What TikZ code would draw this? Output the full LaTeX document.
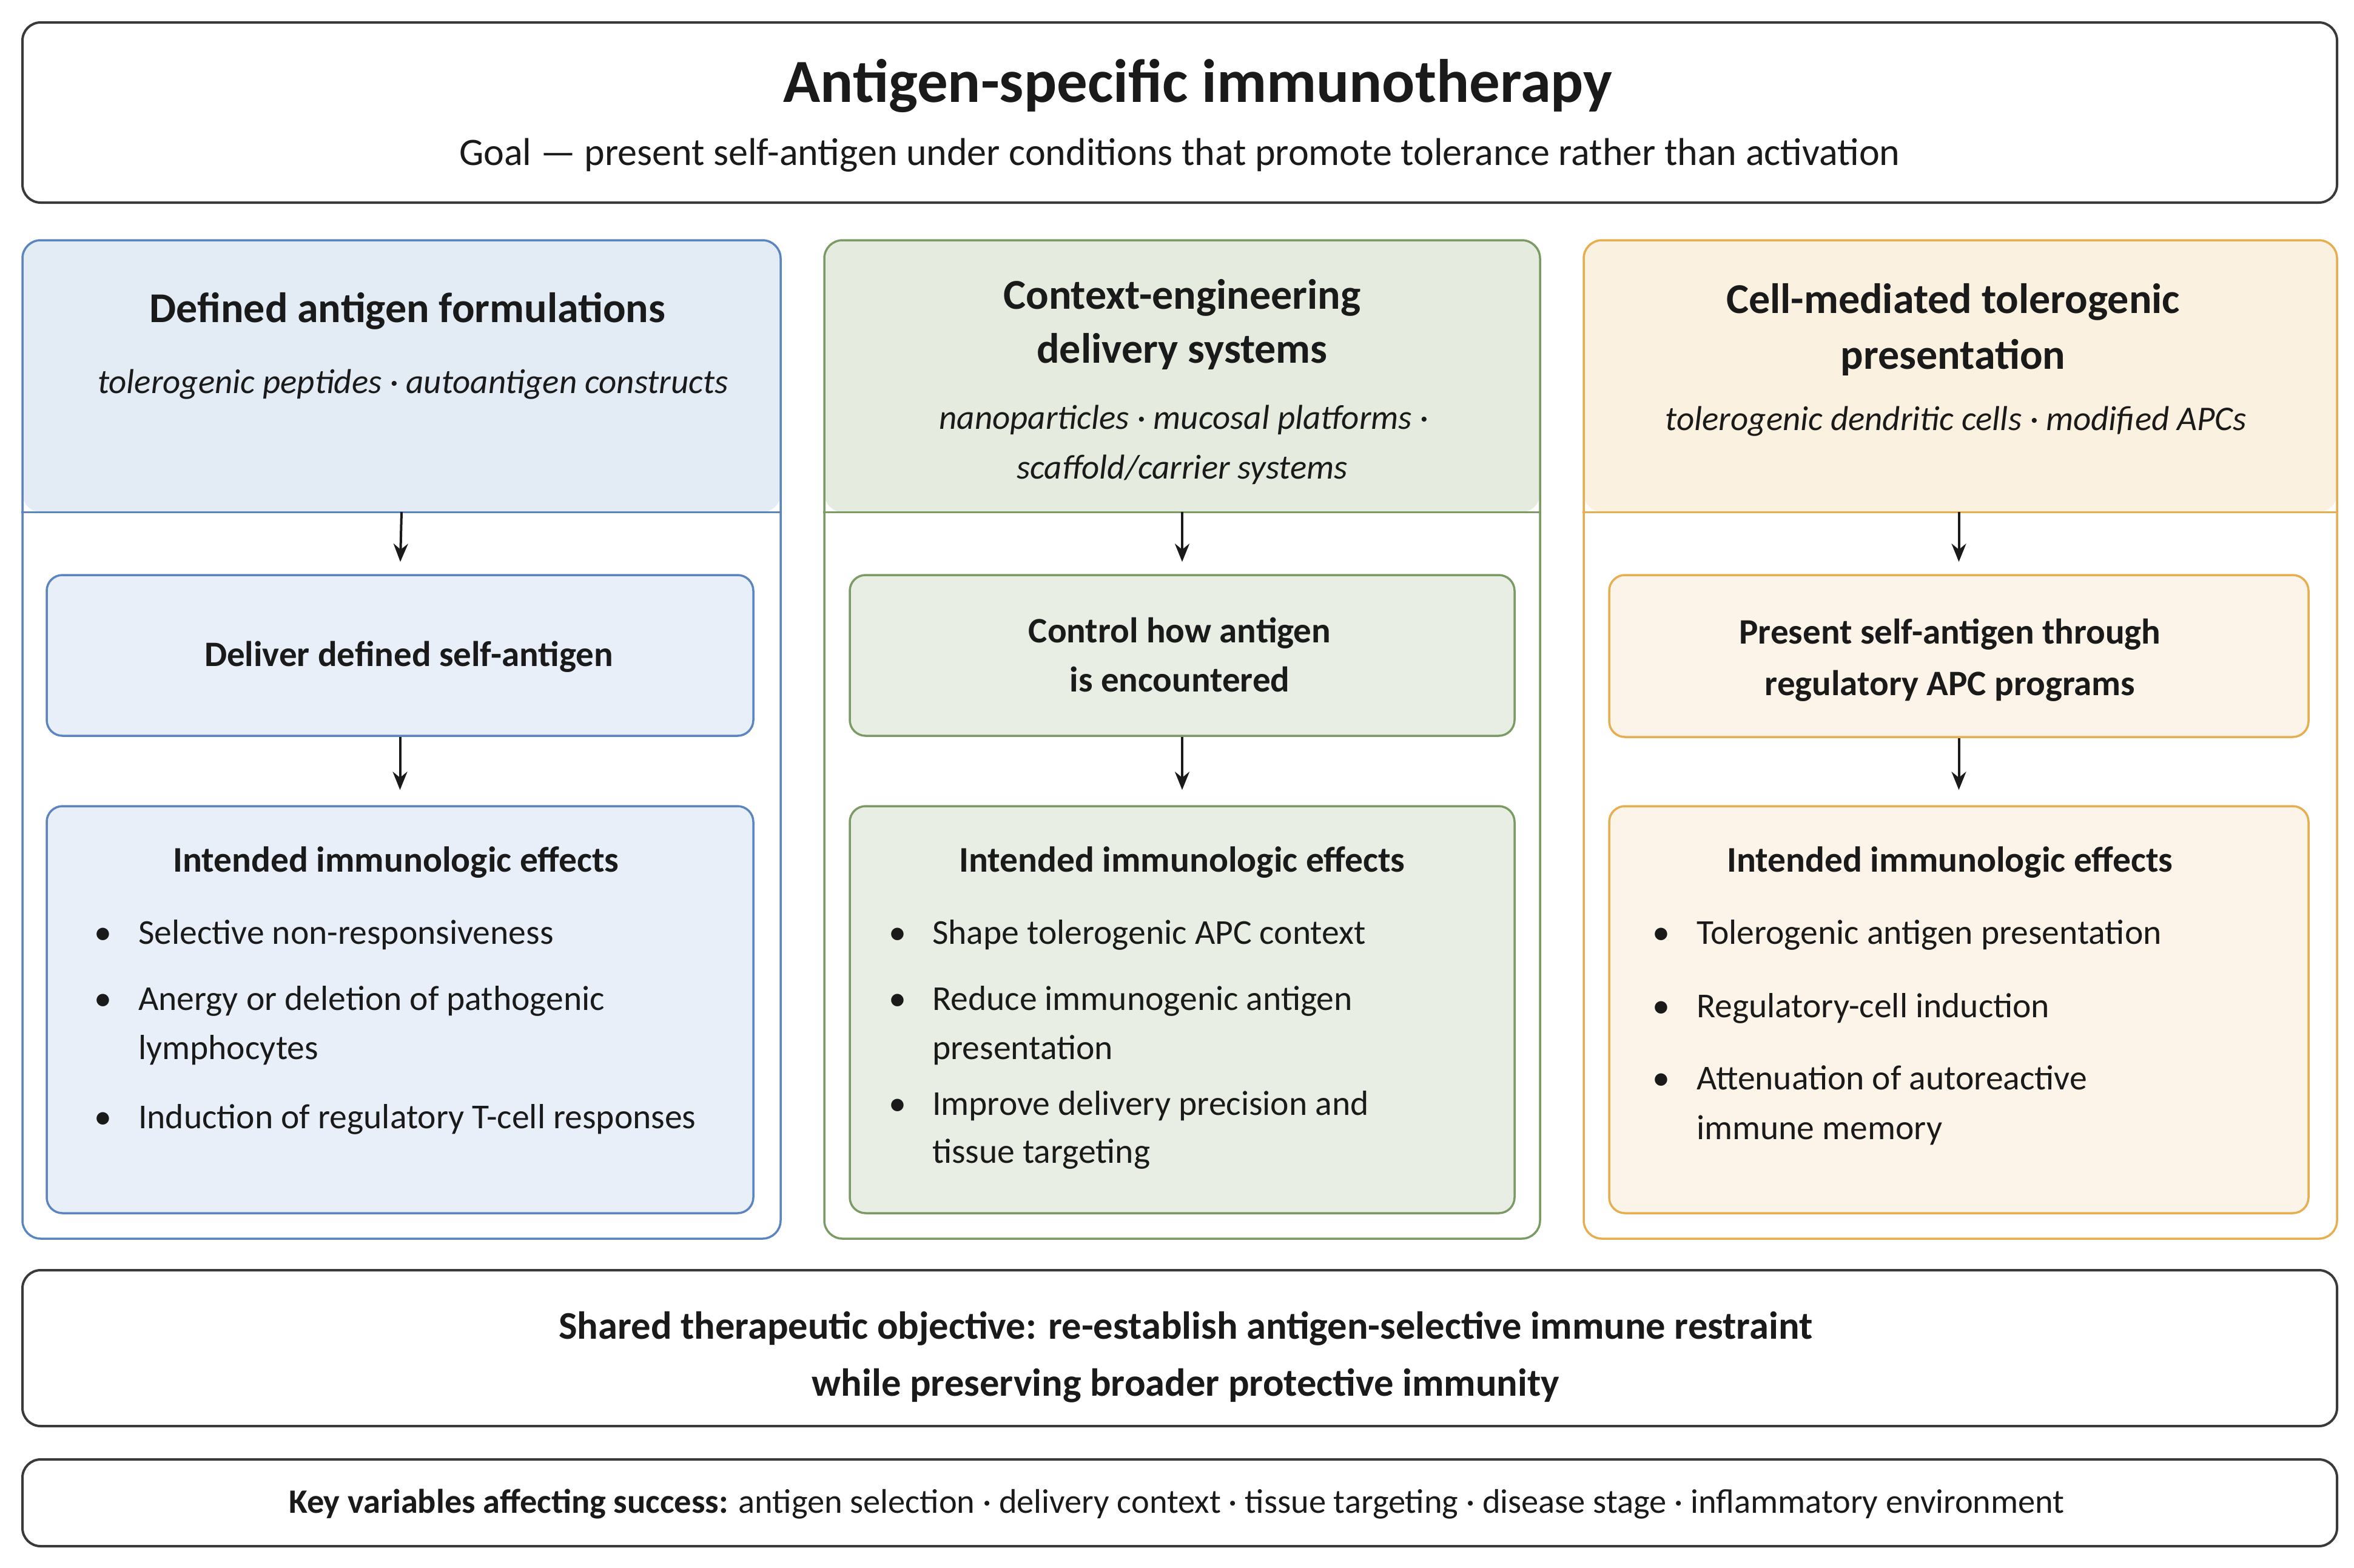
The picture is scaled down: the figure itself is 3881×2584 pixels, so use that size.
\documentclass[tikz,border=0pt]{standalone}
\usepackage{fontspec}
\setmainfont{Carlito}
\usetikzlibrary{arrows.meta}
\definecolor{ink}{HTML}{1A1A1A}
\definecolor{frame}{HTML}{3A3A3A}
\definecolor{bluefill}{HTML}{E3EBF5}
\definecolor{bluein}{HTML}{E8EFF8}
\definecolor{blueline}{HTML}{5B85C0}
\definecolor{greenfill}{HTML}{E5ECDF}
\definecolor{greenin}{HTML}{E8EEE3}
\definecolor{greenline}{HTML}{7B9B65}
\definecolor{orangefill}{HTML}{FBF1E1}
\definecolor{orangein}{HTML}{FCF4E8}
\definecolor{orangeline}{HTML}{E6AE4E}
\newcommand{\fs}[2]{\fontsize{#1}{#2}\selectfont}
\tikzset{
  lbl/.style={inner sep=0pt, anchor=mid, text=ink},
  lblw/.style={inner sep=0pt, anchor=mid west, text=ink},
  maintitle/.style={lbl, font=\fs{101}{112}\bfseries},
  goaltext/.style={lbl, font=\fs{64}{76}},
  colhead/.style={lbl, font=\fs{70}{84}\bfseries},
  colsub/.style={lbl, font=\fs{57}{68}\itshape},
  midtext/.style={lbl, font=\fs{59}{70}\bfseries},
  efftitle/.style={lbl, font=\fs{59.5}{70}\bfseries},
  bul/.style={lbl, font=\fs{58}{70}},
  bultext/.style={lblw, font=\fs{57.6}{70}},
  sharedtext/.style={lbl, font=\fs{64.5}{76}\bfseries},
  keytext/.style={lbl, font=\fs{56.4}{66}},
  wide/.style={draw=frame, line width=4pt, rounded corners=30pt, fill=white, minimum width=3816pt, inner sep=0pt},
  colbox/.style={draw=#1line, line width=3.5pt, rounded corners=30pt, fill=white, minimum height=1646pt, inner sep=0pt,
    path picture={\fill[#1fill] (path picture bounding box.north west) rectangle ([yshift=-448pt]path picture bounding box.north east);}},
  sepline/.style={draw=#1line, line width=3pt},
  inbox/.style={draw=#1line, line width=3.5pt, rounded corners=26pt, fill=#1in, inner sep=0pt},
  arr/.style={-{Stealth[length=30pt,width=24pt]}, line width=4pt, draw=ink},
}
\begin{document}
\begin{tikzpicture}[x=1pt,y=-1pt]
\useasboundingbox (0,0) rectangle (3881,2584);
\fill[white] (0,0) rectangle (3881,2584);

% top box
\node[wide, minimum height=297pt] (top) at (1945,185.5) {};
\node[maintitle] (title) at (1975,166) {Antigen-specific immunotherapy};
\node[goaltext] (goal) at (1945,270) {Goal — present self-antigen under conditions that promote tolerance rather than activation};

% columns
\node[colbox=blue, minimum width=1250pt] (col1) at (662,1219) {};
\node[colbox=green, minimum width=1180pt] (col2) at (1949,1219) {};
\node[colbox=orange, minimum width=1242pt] (col3) at (3232,1219) {};

\coordinate (h1) at (662,844);
\coordinate (h2) at (1949,844);
\coordinate (h3) at (3229.5,844);
\draw[sepline=blue] (col1.west |- h1) -- (col1.east |- h1);
\draw[sepline=green] (col2.west |- h2) -- (col2.east |- h2);
\draw[sepline=orange] (col3.west |- h3) -- (col3.east |- h3);

% column headers
\node[colhead] (c1t) at (672,529) {Defined antigen formulations};
\node[colsub] (c1s) at (681,646) {tolerogenic peptides · autoantigen constructs};

\node[colhead] (c2t1) at (1949,507) {Context-engineering};
\node[colhead] (c2t2) at (1949,596) {delivery systems};
\node[colsub] (c2s1) at (1952,705) {nanoparticles · mucosal platforms ·};
\node[colsub] (c2s2) at (1949,787) {scaffold/carrier systems};

\node[colhead] (c3t1) at (3220,514) {Cell-mediated tolerogenic};
\node[colhead] (c3t2) at (3220,606) {presentation};
\node[colsub] (c3s) at (3225,707) {tolerogenic dendritic cells · modified APCs};

% middle boxes
\node[inbox=blue, minimum width=1165pt, minimum height=265pt] (m1) at (659.5,1080.5) {};
\node[inbox=green, minimum width=1096pt, minimum height=265pt] (m2) at (1949,1080.5) {};
\node[inbox=orange, minimum width=1153pt, minimum height=267pt] (m3) at (3229.5,1081.5) {};

\node[midtext] (m1a) at (674,1096) {Deliver defined self-antigen};
\node[midtext] (m2a) at (1945,1057) {Control how antigen};
\node[midtext] (m2b) at (1945,1138) {is encountered};
\node[midtext] (m3a) at (3215,1059) {Present self-antigen through};
\node[midtext] (m3b) at (3215,1144) {regulatory APC programs};

% bottom boxes
\node[inbox=blue, minimum width=1165pt, minimum height=671pt] (b1) at (659.5,1664.5) {};
\node[inbox=green, minimum width=1096pt, minimum height=671pt] (b2) at (1949,1664.5) {};
\node[inbox=orange, minimum width=1153pt, minimum height=671pt] (b3) at (3229.5,1664.5) {};

\node[efftitle] (b1t) at (653,1435) {Intended immunologic effects};
\node[efftitle] (b2t) at (1949,1435) {Intended immunologic effects};
\node[efftitle] (b3t) at (3215,1435) {Intended immunologic effects};

% bullets col1
\node[bul] (d11) at (170,1554) {•};
\node[bultext] (e11) at (228,1554) {Selective non-responsiveness};
\node[bul] (d12) at (170,1663) {•};
\node[bultext] (e12) at (228,1663) {Anergy or deletion of pathogenic};
\node[bultext] (e12b) at (228,1744) {lymphocytes};
\node[bul] (d13) at (170,1858) {•};
\node[bultext] (e13) at (228,1858) {Induction of regulatory T-cell responses};

% bullets col2
\node[bul] (d21) at (1480,1554) {•};
\node[bultext] (e21) at (1537,1554) {Shape tolerogenic APC context};
\node[bul] (d22) at (1480,1663) {•};
\node[bultext] (e22) at (1537,1663) {Reduce immunogenic antigen};
\node[bultext] (e22b) at (1537,1744) {presentation};
\node[bul] (d23) at (1480,1836) {•};
\node[bultext] (e23) at (1537,1836) {Improve delivery precision and};
\node[bultext] (e23b) at (1537,1915) {tissue targeting};

% bullets col3
\node[bul] (d31) at (2739,1554) {•};
\node[bultext] (e31) at (2797,1554) {Tolerogenic antigen presentation};
\node[bul] (d32) at (2739,1675) {•};
\node[bultext] (e32) at (2797,1675) {Regulatory-cell induction};
\node[bul] (d33) at (2739,1794) {•};
\node[bultext] (e33) at (2797,1794) {Attenuation of autoreactive};
\node[bultext] (e33b) at (2797,1876) {immune memory};

% arrows
\draw[arr, shorten >=20pt] (h1) -- (m1.north);
\draw[arr, shorten >=20pt] (h2) -- (m2.north);
\draw[arr, shorten >=20pt] (h3) -- (m3.north);
\draw[arr, shorten >=25pt] (m1.south) -- (b1.north);
\draw[arr, shorten >=25pt] (m2.south) -- (b2.north);
\draw[arr, shorten >=25pt] (m3.south) -- (b3.north);

% shared objective
\node[wide, minimum height=257pt] (shared) at (1945,2222.5) {};
\node[sharedtext] (sh1) at (1955,2205) {Shared therapeutic objective: re-establish antigen-selective immune restraint};
\node[sharedtext] (sh2) at (1955,2299) {while preserving broader protective immunity};

% key variables
\node[wide, minimum height=143pt] (key) at (1945,2477.5) {};
\node[keytext] (keyt) at (1940,2492) {\textbf{Key variables affecting success:} antigen selection · delivery context · tissue targeting · disease stage · inflammatory environment};
\end{tikzpicture}
\end{document}
